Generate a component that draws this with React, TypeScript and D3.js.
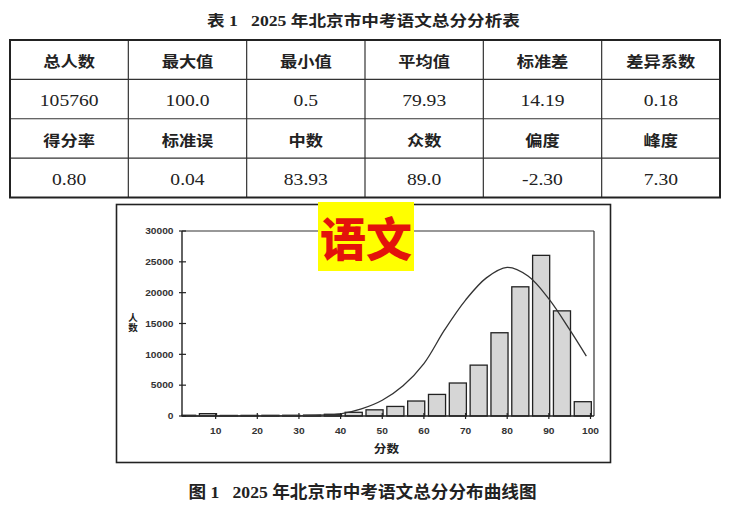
import * as d3 from "d3";

// table values
const headerRow1 = ["总人数", "最大值", "最小值", "平均值", "标准差", "差异系数"];
const valueRow1 = ["105760", "100.0", "0.5", "79.93", "14.19", "0.18"];
const headerRow2 = ["得分率", "标准误", "中数", "众数", "偏度", "峰度"];
const valueRow2 = ["0.80", "0.04", "83.93", "89.0", "-2.30", "7.30"];

// histogram: bin lower bounds (width 5) and counts
const binStarts = [0, 5, 10, 15, 20, 25, 30, 35, 40, 45, 50, 55, 60, 65, 70, 75, 80, 85, 90, 95];
const binCounts = [120, 380, 90, 100, 110, 120, 150, 280, 600, 1000, 1550, 2430, 3500, 5350, 8250, 13500, 20950, 26050, 17050, 2320];

// fitted curve
const curveScores = [2, 10, 20, 30, 35, 40, 45, 50, 55, 60, 65, 70, 75, 80, 85, 90, 95, 99];
const curveCounts = [0, 0, 10, 60, 150, 350, 1150, 2550, 4900, 8500, 14000, 18800, 22400, 24100, 22700, 19000, 14000, 9700];

const yTicks = [0, 5000, 10000, 15000, 20000, 25000, 30000];
const xTicks = [10, 20, 30, 40, 50, 60, 70, 80, 90, 100];

const W = 733;
const H = 511;
const CJK = '"Noto Sans CJK SC", sans-serif';
const SERIF = '"Liberation Serif", "Noto Sans CJK SC", serif';
const SANS = '"Liberation Sans", Arial, sans-serif';

function Table() {
  const left = 10;
  const right = 720;
  const top = 40;
  const bottom = 197.5;
  const colW = (right - left) / 6;
  const rowH = (bottom - top) / 4;
  const rows = [headerRow1, valueRow1, headerRow2, valueRow2];

  return (
    <g>
      {rows.map((row, ri) =>
        row.map((txt, ci) => {
          const cx = left + colW * (ci + 0.5);
          const isHead = ri % 2 === 0;
          const cy = top + rowH * ri + (isHead ? 27 : 26.5);
          return (
            <g key={`${ri}-${ci}`} transform={`translate(${cx},${cy}) scale(${isHead ? 1.15 : 1.12},1)`}>
              <text
                textAnchor="middle"
                fontFamily={isHead ? CJK : SERIF}
                fontSize={isHead ? 15 : 17.5}
                fontWeight={isHead ? 700 : 400}
                fill="#222"
              >
                {txt}
              </text>
            </g>
          );
        })
      )}
      {d3.range(1, 4).map((i) => (
        <line key={`h${i}`} x1={left} x2={right} y1={top + rowH * i} y2={top + rowH * i} stroke="#333" strokeWidth={1.2} />
      ))}
      {d3.range(1, 6).map((i) => (
        <line key={`v${i}`} x1={left + colW * i} x2={left + colW * i} y1={top} y2={bottom} stroke="#333" strokeWidth={1.2} />
      ))}
      <rect x={left} y={top} width={right - left} height={bottom - top} fill="none" stroke="#222" strokeWidth={2} />
    </g>
  );
}

function Chart() {
  const plot = { left: 182, right: 594, top: 231, bottom: 416 };
  const x = d3.scaleLinear().domain([0, 100]).range([174, 590.5]);
  const y = d3.scaleLinear().domain([0, 30000]).range([plot.bottom, plot.top]);

  const line = d3
    .line<number>()
    .x((_, i) => x(curveScores[i]))
    .y((d) => y(d))
    .curve(d3.curveCatmullRom.alpha(0.5));

  return (
    <g>
      <rect x={116.5} y={204.5} width={494} height={258} fill="#fff" stroke="#222" strokeWidth={1.6} />

      {/* bars */}
      {binStarts.map((lo, i) => {
        const x0 = Math.max(x(lo + 1.1), plot.left);
        const x1 = x(lo + 5.2);
        return (
          <rect
            key={lo}
            x={x0}
            y={y(binCounts[i])}
            width={x1 - x0}
            height={plot.bottom - y(binCounts[i])}
            fill="#d6d6d6"
            stroke="#222"
            strokeWidth={1.3}
          />
        );
      })}

      {/* frame */}
      <line x1={plot.left} x2={plot.right} y1={plot.top} y2={plot.top} stroke="#333" strokeWidth={1.2} />
      <line x1={plot.right} x2={plot.right} y1={plot.top} y2={plot.bottom} stroke="#333" strokeWidth={1.2} />
      <line x1={plot.left} x2={plot.left} y1={plot.top} y2={plot.bottom} stroke="#222" strokeWidth={1.4} />
      <line x1={plot.left} x2={plot.right} y1={plot.bottom} y2={plot.bottom} stroke="#222" strokeWidth={1.6} />

      {/* curve */}
      <path d={line(curveCounts) ?? ""} fill="none" stroke="#333" strokeWidth={1.3} />

      {/* y axis */}
      {yTicks.map((t) => (
        <g key={t}>
          <line x1={plot.left - 3} x2={plot.left + 4} y1={y(t)} y2={y(t)} stroke="#222" strokeWidth={1.2} />
          <g transform={`translate(173.5,${y(t) + 3.2}) scale(1.2,1)`}>
            <text textAnchor="end" fontFamily={SANS} fontSize={8.5} fontWeight={700} fill="#333">
              {t}
            </text>
          </g>
        </g>
      ))}
      <text
        x={133}
        y={313}
        fontFamily={CJK}
        fontSize={9.5}
        fontWeight={700}
        fill="#222"
        style={{ writingMode: "vertical-rl" }}
      >
        人数
      </text>

      {/* x axis */}
      {xTicks.map((t) => (
        <g key={t}>
          <line x1={x(t)} x2={x(t)} y1={plot.bottom - 3} y2={plot.bottom + 3} stroke="#222" strokeWidth={1.2} />
          <g transform={`translate(${x(t)},433.5) scale(1.2,1)`}>
            <text textAnchor="middle" fontFamily={SANS} fontSize={8.5} fontWeight={700} fill="#333">
              {t}
            </text>
          </g>
        </g>
      ))}
      <g transform="translate(386.5,453) scale(1.15,1)">
        <text textAnchor="middle" fontFamily={CJK} fontSize={11} fontWeight={700} fill="#222">
          分数
        </text>
      </g>

      {/* overlay label */}
      <rect x={318} y={202} width={96} height={69} fill="#ffff00" />
      <text x={366} y={256} textAnchor="middle" fontFamily={CJK} fontSize={46} fontWeight={900} fill="#e3120b">
        语文
      </text>
    </g>
  );
}

export default function App() {
  return (
    <svg
      width={W}
      height={H}
      viewBox={`0 0 ${W} ${H}`}
      style={{ position: "absolute", left: 0, top: 0, background: "#fff" }}
    >
      <text
        x={207}
        y={26}
        textLength={313}
        lengthAdjust="spacingAndGlyphs"
        fontFamily={SERIF}
        fontSize={15}
        fontWeight={700}
        fill="#222"
        style={{ whiteSpace: "pre" }}
      >
        {"表 1   2025 年北京市中考语文总分分析表"}
      </text>
      <Table />
      <Chart />
      <text
        x={188.5}
        y={498}
        textLength={348}
        lengthAdjust="spacingAndGlyphs"
        fontFamily={SERIF}
        fontSize={16.5}
        fontWeight={700}
        fill="#222"
        style={{ whiteSpace: "pre" }}
      >
        {"图 1   2025 年北京市中考语文总分分布曲线图"}
      </text>
    </svg>
  );
}
